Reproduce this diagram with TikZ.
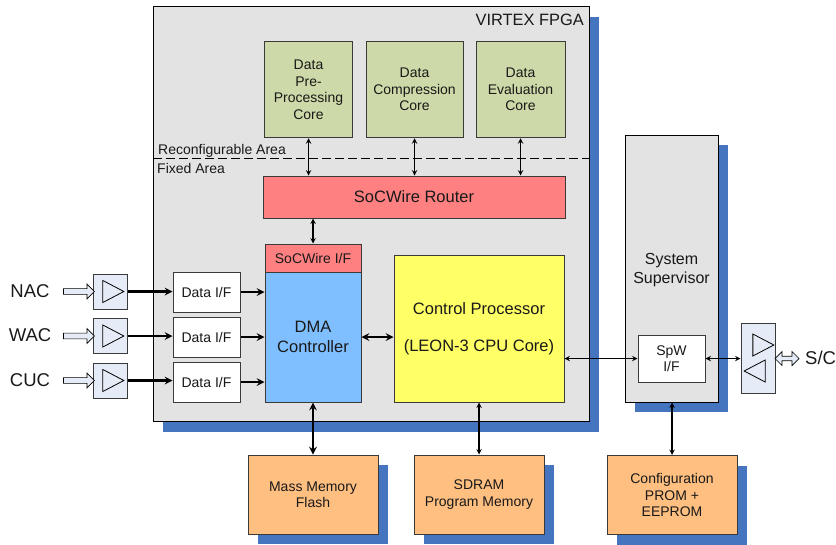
\documentclass[tikz,border=0pt]{standalone}
\usepackage{fontspec}
\setmainfont{Liberation Sans}
\usetikzlibrary{shapes.geometric,shapes.arrows,shadows}
\definecolor{fpgagrey}{HTML}{E3E3E3}
\definecolor{coregreen}{HTML}{CDD9A8}
\definecolor{routerred}{HTML}{FF8080}
\definecolor{dmablue}{HTML}{80BFFF}
\definecolor{cpuyellow}{HTML}{FFFF66}
\definecolor{memorange}{HTML}{FFBF80}
\definecolor{ampblue}{HTML}{E6ECF7}
\definecolor{shadowblue}{HTML}{4675BF}
\definecolor{edgegrey}{HTML}{3A3A3A}
\tikzset{
  block/.style={draw=edgegrey, line width=1pt, inner sep=1pt, align=center, text=black!90,
    font=\fontsize{14}{16.5}\selectfont},
  shadowed/.style={drop shadow={shadow xshift=10pt, shadow yshift=-10pt, opacity=1, fill=shadowblue}},
  core/.style={block, fill=coregreen, minimum height=96.5pt},
  dif/.style={block, fill=white, minimum width=67pt, minimum height=40pt},
  mem/.style={block, fill=memorange, shadowed, minimum width=130pt, minimum height=79pt},
  ampbox/.style={block, fill=ampblue, minimum width=34pt},
  amptri/.style={draw=black, line width=0.8pt, isosceles triangle, isosceles triangle stretches,
    minimum width=22pt, minimum height=21pt, inner sep=0pt},
  inarrow/.style={draw=black, line width=0.7pt, fill=ampblue, single arrow, minimum height=31pt,
    minimum width=15pt, single arrow head extend=3pt, inner sep=1.5pt},
  lbl/.style={text=black!90, font=\fontsize{14}{16.5}\selectfont, inner sep=0pt},
  biglbl/.style={text=black!90, font=\fontsize{18.5}{20}\selectfont, inner sep=0pt},
  thin link/.style={<->, line width=1.4pt},
  data link/.style={->, line width=2.4pt},
}
\begin{document}
\begin{tikzpicture}[x=1pt, y=-1pt, >=stealth]
  \useasboundingbox (0,0) rectangle (836,544);

  % fpga and supervisor
  \node[block, fill=fpgagrey, shadowed, draw=black, minimum width=436pt, minimum height=415pt] (fpga) at (371,214) {};
  \node[block, fill=fpgagrey, shadowed, draw=black, minimum width=93pt, minimum height=267pt] (super) at (671.5,268.5) {};
  \node[lbl, anchor=east, font=\fontsize{16.4}{19}\selectfont] (fpgatitle) at (584,20) {VIRTEX FPGA};
  \node[lbl, align=center, font=\fontsize{16}{19.5}\selectfont] (supertitle) at (671.5,270) {System\\Supervisor};

  % area border
  \coordinate (areaL) at (153,158.5);
  \coordinate (areaR) at (589,158.5);
  \draw[line width=1.4pt, dash pattern=on 9pt off 4pt] (areaL) -- (areaR);
  \node[lbl, anchor=west] (reconf) at (158,151) {Reconfigurable Area};
  \node[lbl, anchor=west] (fixed) at (157,168.5) {Fixed Area};

  % cores
  \node[core, minimum width=88pt] (core1) at (308.5,89.5) {Data\\Pre-\\Processing\\Core};
  \node[core, minimum width=97pt] (core2) at (414.5,89.5) {Data\\Compression\\Core};
  \node[core, minimum width=89pt] (core3) at (520.5,89.5) {Data\\Evaluation\\Core};

  % fixed area
  \node[block, fill=routerred, minimum width=302pt, minimum height=42pt, font=\fontsize{16.5}{19}\selectfont] (router) at (414,197) {SoCWire Router};
  \node[block, fill=routerred, minimum width=96pt, minimum height=28pt] (sif) at (313,258) {SoCWire I/F};
  \node[block, fill=dmablue, minimum width=96pt, minimum height=130pt, font=\fontsize{16.5}{20}\selectfont] (dma) at (313,337) {DMA\\Controller};
  \node[block, fill=cpuyellow, minimum width=170pt, minimum height=147pt, font=\fontsize{16.5}{20}\selectfont] (cpu) at (479,328.5) {Control Processor\\[17pt](LEON-3 CPU Core)};

  \node[dif] (dif1) at (206.5,292) {Data I/F};
  \node[dif] (dif2) at (206.5,337) {Data I/F};
  \node[dif] (dif3) at (206.5,382) {Data I/F};

  % amplifiers
  \node[ampbox, minimum height=35pt] (amp1) at (110,291.5) {};
  \node[ampbox, minimum height=35pt] (amp2) at (110,336) {};
  \node[ampbox, minimum height=35pt] (amp3) at (110,380.5) {};
  \node[amptri] (tri1) at (109.5,291.5) {};
  \node[amptri] (tri2) at (109.5,336) {};
  \node[amptri] (tri3) at (109.5,380.5) {};

  \node[inarrow] (in1) at (77.5,291.5) {};
  \node[inarrow] (in2) at (77.5,336) {};
  \node[inarrow] (in3) at (77.5,380.5) {};

  \node[biglbl] (nac) at (30,291) {NAC};
  \node[biglbl] (wac) at (30,335) {WAC};
  \node[biglbl] (cuc) at (30,380) {CUC};

  % memories
  \node[mem] (flash) at (313,494.5) {Mass Memory\\Flash};
  \node[mem] (sdram) at (479,494.5) {SDRAM\\Program Memory};
  \node[mem] (prom) at (672,495) {Configuration\\PROM +\\EEPROM};

  % spacewire side
  \node[block, fill=white, minimum width=67pt, minimum height=47pt] (spw) at (671.5,358.5) {SpW\\I/F};
  \node[ampbox, minimum height=70pt] (ampsc) at (758,358) {};
  \node[amptri] (trisc1) at (759.5,345) {};
  \node[amptri, shape border rotate=180] (trisc2) at (758.5,371) {};
  \node[draw=black, line width=0.7pt, fill=ampblue, double arrow, minimum height=24pt, minimum width=14pt, double arrow head extend=3pt, inner sep=1pt] (scarrow) at (787,358.5) {};
  \node[biglbl, anchor=west] (sc) at (805,358) {S/C};

  % connectors
  \draw[thin link] (core1.south) -- (core1.south|-router.north);
  \draw[thin link] (core2.south) -- (core2.south|-router.north);
  \draw[thin link] (core3.south) -- (core3.south|-router.north);
  \draw[thin link] (sif.north) -- (sif.north|-router.south);

  \draw[data link] (amp1.east) -- (amp1.east-|dif1.west);
  \draw[data link] (amp2.east) -- (amp2.east-|dif2.west);
  \draw[data link] (amp3.east) -- (amp3.east-|dif3.west);
  \draw[data link] (dif1.east) -- (dif1.east-|dma.west);
  \draw[data link] (dif2.east) -- (dif2.east-|dma.west);
  \draw[data link] (dif3.east) -- (dif3.east-|dma.west);

  \draw[<->, line width=2.4pt] (dma.east) -- (dma.east-|cpu.west);
  \draw[<->, line width=2.4pt] (dma.south) -- (flash.north);
  \draw[thin link] (cpu.south) -- (sdram.north);
  \draw[thin link] (spw.west-|cpu.east) -- (spw.west);
  \draw[thin link] (spw.east) -- (spw.east-|ampsc.west);
  \draw[thin link] (prom.north) -- (prom.north|-super.south);
\end{tikzpicture}
\end{document}
